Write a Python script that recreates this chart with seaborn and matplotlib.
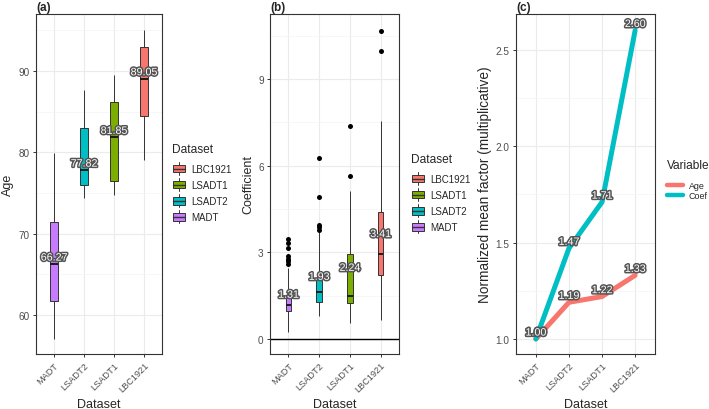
import matplotlib
matplotlib.use("Agg")
import matplotlib.pyplot as plt
import matplotlib.patheffects as pe
from matplotlib.legend_handler import HandlerBase
from matplotlib.patches import Rectangle, Patch
from matplotlib.lines import Line2D
from matplotlib.ticker import MultipleLocator, FormatStrFormatter
import pandas as pd
import seaborn as sns

# categories (x order) and legend order
datasets = ["MADT", "LSADT2", "LSADT1", "LBC1921"]
legend_order = ["LBC1921", "LSADT1", "LSADT2", "MADT"]

# five-number summaries: low whisker, q1, median, q3, high whisker
age_box = {
    "MADT": [57.0, 61.7, 66.3, 71.4, 79.9],
    "LSADT2": [74.4, 76.0, 77.8, 83.0, 87.7],
    "LSADT1": [74.7, 76.5, 81.9, 86.2, 89.5],
    "LBC1921": [79.0, 84.4, 89.0, 93.0, 95.0],
}
age_means = [66.27, 77.82, 81.85, 89.05]

coef_box = {
    "MADT": [0.25, 0.96, 1.19, 1.50, 2.46],
    "LSADT2": [0.81, 1.27, 1.64, 2.08, 3.72],
    "LSADT1": [0.55, 1.23, 1.50, 2.94, 5.12],
    "LBC1921": [0.67, 2.21, 2.93, 4.38, 7.55],
}
coef_outliers = {
    "MADT": [2.60, 2.69, 2.77, 2.86, 3.15, 3.31, 3.46],
    "LSADT2": [3.78, 3.86, 3.93, 4.93, 6.26],
    "LSADT1": [5.65, 7.38],
    "LBC1921": [9.97, 10.67],
}
coef_means = [1.31, 1.93, 2.24, 3.41]

# normalized mean factors, panel (c)
variables = ["Age", "Coef"]
norm_age = [1.00, 1.19, 1.22, 1.33]
norm_coef = [1.00, 1.47, 1.71, 2.60]

pal = {"LBC1921": "#F8766D", "LSADT1": "#7CAE00", "LSADT2": "#00BFC4", "MADT": "#C77CFF"}
var_pal = {"Age": "#F8766D", "Coef": "#00BFC4"}

sns.set_theme(style="whitegrid")
plt.rcParams["font.family"] = ["Liberation Sans", "DejaVu Sans"]

W, H = 709, 410
fig = plt.figure(figsize=(W / 100, H / 100), dpi=100)


def px_axes(left, right, top=15, bottom=355):
    return fig.add_axes([left / W, 1 - bottom / H, (right - left) / W, (bottom - top) / H])


ax_a = px_axes(36, 162)
ax_b = px_axes(270, 399)
ax_c = px_axes(516, 655)

label_fx = [pe.withStroke(linewidth=2.2, foreground="#555555")]


def style_axes(ax, title, ylabel, ysize=9):
    ax.set_facecolor("white")
    for s in ax.spines.values():
        s.set_visible(True)
        s.set_color("#333333")
        s.set_linewidth(0.8)
    ax.grid(True, which="major", color="#EBEBEB", linewidth=0.8)
    ax.grid(True, which="minor", axis="y", color="#F4F4F4", linewidth=0.5)
    ax.set_axisbelow(True)
    ax.tick_params(axis="both", which="major", length=2.5, width=0.7, color="#333333",
                   labelsize=7.2, labelcolor="#4D4D4D", pad=2, bottom=True, left=True)
    ax.tick_params(axis="y", which="minor", length=0)
    ax.set_xlim(-0.6, 3.6)
    ax.set_xticks(range(4))
    ax.set_xticklabels(datasets, rotation=45, ha="right", rotation_mode="anchor",
                       fontsize=6.6, color="#4D4D4D")
    ax.set_xlabel("Dataset", fontsize=9, labelpad=3)
    ax.set_ylabel(ylabel, fontsize=ysize, labelpad=3)
    ax.set_title(title, loc="left", fontsize=8.5, fontweight="bold", pad=3, x=0.0)


class BoxKey(HandlerBase):
    def create_artists(self, legend, orig_handle, xdescent, ydescent, width, height, fontsize, trans):
        c = orig_handle.get_facecolor()
        x0, y0 = -xdescent, -ydescent
        ec = "#333333"
        rect = Rectangle((x0 + 0.06 * width, y0 + 0.2 * height), 0.88 * width, 0.6 * height,
                         facecolor=c, edgecolor=ec, lw=0.7, transform=trans)
        med = Line2D([x0 + 0.06 * width, x0 + 0.94 * width], [y0 + 0.5 * height] * 2,
                     color=ec, lw=1.0, transform=trans)
        w1 = Line2D([x0 + 0.5 * width] * 2, [y0, y0 + 0.2 * height], color=ec, lw=0.7, transform=trans)
        w2 = Line2D([x0 + 0.5 * width] * 2, [y0 + 0.8 * height, y0 + height], color=ec, lw=0.7, transform=trans)
        return [rect, med, w1, w2]


def box_legend(ax, x_px, y_px):
    handles = [Patch(facecolor=pal[d]) for d in legend_order]
    leg = ax.legend(handles, legend_order, title="Dataset", handler_map={Patch: BoxKey()},
                    loc="upper left", bbox_to_anchor=(x_px / W, 1 - y_px / H),
                    bbox_transform=fig.transFigure, frameon=False, fontsize=7.0,
                    title_fontsize=8.6, handlelength=1.45, handleheight=1.7,
                    labelspacing=0.3, handletextpad=0.55, borderaxespad=0, borderpad=0)
    leg._legend_box.align = "left"
    leg._legend_box.sep = 5


def box_panel(ax, box, means, width, outliers=None):
    rows = [(d, v) for d in datasets for v in box[d]]
    df = pd.DataFrame(rows, columns=["Dataset", "value"])
    sns.boxplot(data=df, x="Dataset", y="value", hue="Dataset", order=datasets,
                hue_order=legend_order, palette=pal, saturation=1, dodge=False,
                whis=(0, 100), width=width, linecolor="#333333", linewidth=0.7,
                showcaps=False, medianprops=dict(color="#1a1a1a", linewidth=1.4),
                legend=False, ax=ax)
    if outliers is not None:
        orows = [(d, v) for d in datasets for v in outliers[d]]
        odf = pd.DataFrame(orows, columns=["Dataset", "value"])
        sns.stripplot(data=odf, x="Dataset", y="value", order=datasets, jitter=False,
                      color="black", size=3.6, linewidth=0, ax=ax, zorder=3)
    for i, m in enumerate(means):
        ax.annotate(f"{m:.2f}", (i, m), xytext=(0, 4.6), textcoords="offset points",
                    ha="center", va="center", fontsize=7.7, color="white",
                    path_effects=label_fx, zorder=5)


# (a) Age
box_panel(ax_a, age_box, age_means, 0.26)
ax_a.set_ylim(55.2, 97.0)
ax_a.yaxis.set_major_locator(MultipleLocator(10))
ax_a.yaxis.set_minor_locator(MultipleLocator(5))
style_axes(ax_a, "(a)", "Age")
box_legend(ax_a, 172, 144)

# (b) Coefficient
ax_b.axhline(0, color="black", linewidth=1.0, zorder=1.5)
box_panel(ax_b, coef_box, coef_means, 0.19, coef_outliers)
ax_b.set_ylim(-0.52, 11.25)
ax_b.yaxis.set_major_locator(MultipleLocator(3))
ax_b.yaxis.set_minor_locator(MultipleLocator(1.5))
style_axes(ax_b, "(b)", "Coefficient")
box_legend(ax_b, 411, 154)

# (c) normalized mean factor
long = pd.DataFrame({
    "Dataset": datasets * 2,
    "value": norm_age + norm_coef,
    "Variable": ["Age"] * 4 + ["Coef"] * 4,
})
long["pos"] = long["Dataset"].map({d: i for i, d in enumerate(datasets)})
sns.lineplot(data=long, x="pos", y="value", hue="Variable", hue_order=variables,
             palette=var_pal, sort=False, linewidth=3.6, ax=ax_c, legend=False)
for _, r in long.iterrows():
    ax_c.annotate(f"{r['value']:.2f}", (r["pos"], r["value"]), xytext=(0, 4.6),
                  textcoords="offset points", ha="center", va="center", fontsize=7.7,
                  color="white", path_effects=label_fx, zorder=5)
ax_c.set_ylim(0.922, 2.685)
ax_c.yaxis.set_major_locator(MultipleLocator(0.5))
ax_c.yaxis.set_minor_locator(MultipleLocator(0.25))
ax_c.yaxis.set_major_formatter(FormatStrFormatter("%.1f"))
style_axes(ax_c, "(c)", "Normalized mean factor (multiplicative)", ysize=9.8)
handles = [Line2D([], [], color=var_pal[v], linewidth=3.2) for v in variables]
leg = ax_c.legend(handles, variables, title="Variable", loc="upper left",
                  bbox_to_anchor=(667 / W, 1 - 160 / H), bbox_transform=fig.transFigure,
                  frameon=False, fontsize=6.4, title_fontsize=8.6, handlelength=1.75,
                  labelspacing=0.1, handletextpad=0.7, borderaxespad=0, borderpad=0)
leg._legend_box.align = "left"
leg._legend_box.sep = 7

fig.savefig("out.png", dpi=100, facecolor="white")
